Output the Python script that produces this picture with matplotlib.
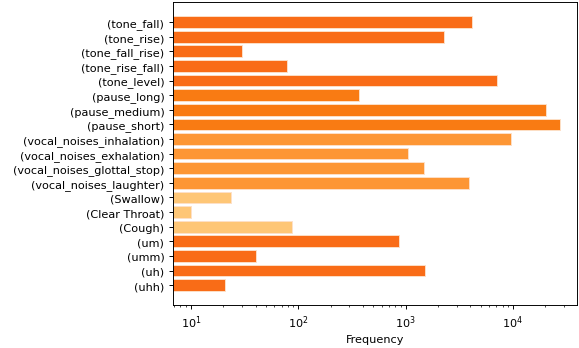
import matplotlib.pyplot as plt

# labels, top to bottom
labels = ["(tone_fall)", "(tone_rise)", "(tone_fall_rise)", "(tone_rise_fall)", "(tone_level)",
          "(pause_long)", "(pause_medium)", "(pause_short)",
          "(vocal_noises_inhalation)", "(vocal_noises_exhalation)",
          "(vocal_noises_glottal_stop)", "(vocal_noises_laughter)",
          "(Swallow)", "(Clear Throat)", "(Cough)",
          "(um)", "(umm)", "(uh)", "(uhh)"]
freq = [4190, 2300, 30, 79, 7160,
        366, 20200, 27300,
        9660, 1060, 1485, 3900,
        23.4, 10, 88,
        874, 40, 1527, 21]
groups = ["tone"] * 5 + ["pause"] * 3 + ["vocal"] * 4 + ["sound"] * 3 + ["filler"] * 4

group_colors = {"tone": "#f96c17", "pause": "#f97b13", "vocal": "#fd9634",
                "sound": "#fec676", "filler": "#f96c17"}
colors = [group_colors[g] for g in groups]

plt.rcParams["font.size"] = 9.5

# original looks rendered at ~85 dpi
dpi = 85
fig = plt.figure(figsize=(579 / dpi, 349 / dpi), dpi=dpi)
ax = fig.add_axes([0.298, 0.124, 0.699, 0.866])

ypos = list(range(len(labels)))
ax.barh(ypos, freq, color=colors, edgecolor="#fde0c8", linewidth=0.8)
ax.set_xscale("log")
ax.set_yticks(ypos)
ax.set_yticklabels(labels)
ax.invert_yaxis()
ax.set_xlim(6.75, 39700)
ax.set_xlabel("Frequency")

fig.savefig("out.png", dpi=dpi)
